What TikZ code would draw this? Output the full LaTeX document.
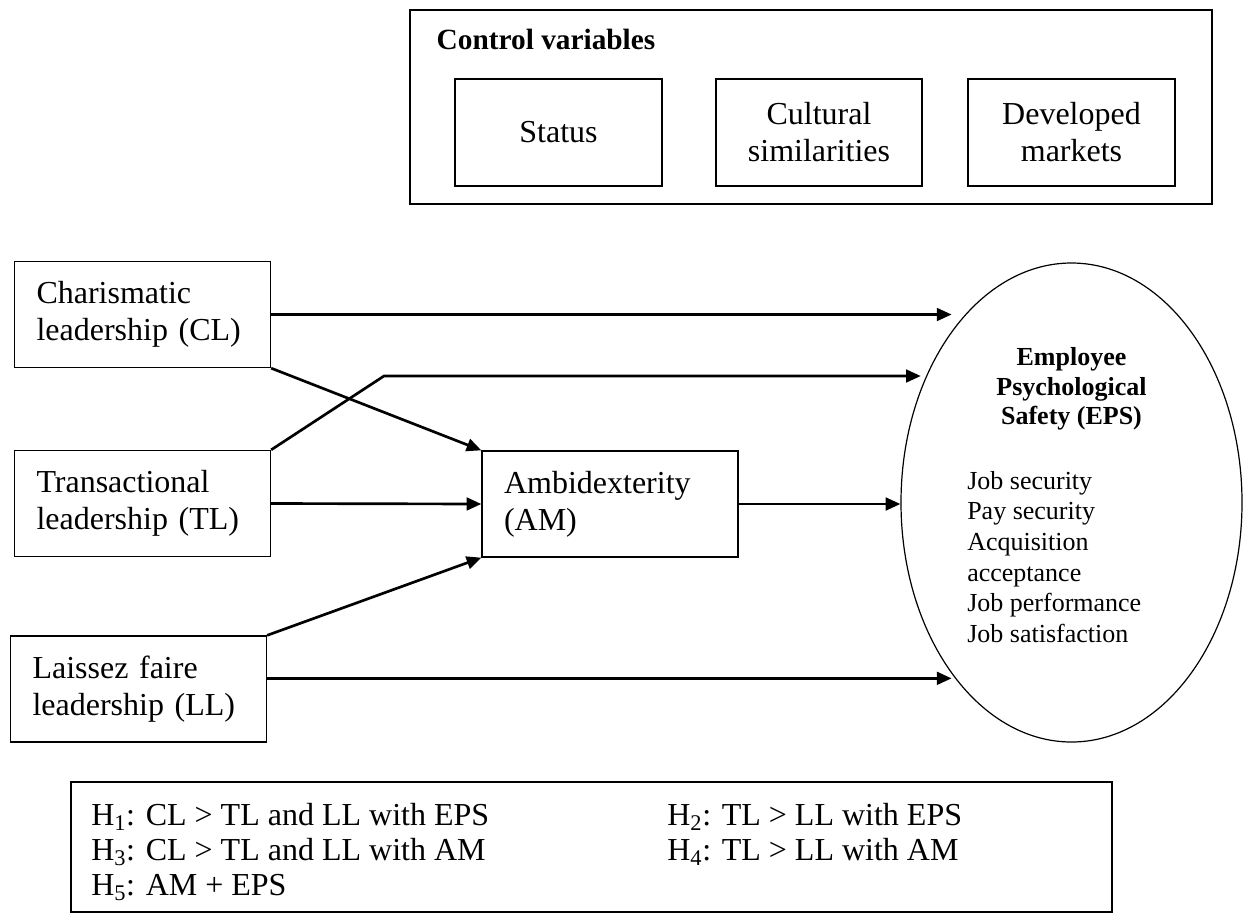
\documentclass[tikz,border=0pt]{standalone}
\usepackage{fontspec}
\setmainfont{Liberation Serif}
\usetikzlibrary{shapes.geometric,arrows.meta,positioning}

\begin{document}
\begin{tikzpicture}[x=0.75pt,y=-0.75pt,
    leadbox/.style={draw,line width=1pt,text width=159pt,inner xsep=16.5pt,inner ysep=0pt,
        minimum height=79.5pt,align=left,font=\fontsize{24}{27.75}\selectfont},
    ctrlbox/.style={draw,line width=1.7pt,minimum width=155pt,minimum height=80pt,
        align=center,font=\fontsize{24}{27.75}\selectfont},
    arr/.style={line width=2pt,-{Triangle[length=11pt,width=9.5pt]}}]
    \useasboundingbox (0,0) rectangle (1246,918);
    % control variables
    \node [draw,line width=1pt,minimum width=601.5pt,minimum height=145.5pt] (ctrl) at (811,107) {};
    \node [anchor=base west,font=\fontsize{22}{26}\selectfont\bfseries] (ctrltitle) at (432,49) {Control variables};
    \node [ctrlbox] (status) at (558.5,132.5) {Status};
    \node [ctrlbox] (cultural) at (819,132.5) {Cultural\\similarities};
    \node [ctrlbox] (developed) at (1071.5,132.5) {Developed\\markets};
    % leadership styles
    \node [leadbox] (CL) at (142.5,314.5) {Charismatic\\leadership (CL)};
    \node [leadbox] (TL) at (142.5,503.5) {Transactional\\leadership (TL)};
    \node [leadbox] (LL) at (138.5,689) {Laissez faire\\leadership (LL)};
    \node [leadbox] (AM) at (610,504) {Ambidexterity\\(AM)};
    % outcome
    \node [draw,ellipse,line width=0.9pt,inner sep=0pt,minimum width=255.75pt,minimum height=359.25pt] (EPS) at (1071.5,502.5) {};
    \node [align=center,inner sep=0pt,font=\fontsize{19.5}{22}\selectfont\bfseries] (EPStitle) at (1071.5,389) {Employee\\Psychological\\Safety (EPS)};
    \node [anchor=north west,align=left,inner sep=0pt,font=\fontsize{19.5}{23}\selectfont] (EPSlist) at (967,471)
        {Job security\\Pay security\\Acquisition\\acceptance\\Job performance\\Job satisfaction};
    % paths
    \coordinate (TLbend) at (384,376);
    \draw [arr] (CL.east) -- (CL.east -| EPS.125);
    \draw [arr] (TL.north east) -- (TLbend) -- (TLbend -| EPS.143);
    \draw [arr] (CL.south east) -- (AM.north west);
    \draw [arr] (TL.east) -- (AM.west);
    \draw [arr] (LL.north east) -- (AM.south west);
    \draw [arr] (AM.east) -- (AM.east -| EPS.west);
    \draw [arr] ([yshift=8pt]LL.east) -- ([yshift=8pt]LL.east -| EPS.235);
    % hypotheses
    \node [draw,line width=1.4pt,minimum width=780.75pt,minimum height=97.5pt] (hyp) at (591.5,847) {};
    \node [anchor=north west,align=left,inner sep=0pt,font=\fontsize{24}{26.25}\selectfont] (hypA) at (91,803)
        {H\textsubscript{1}: CL > TL and LL with EPS\\H\textsubscript{3}: CL > TL and LL with AM\\H\textsubscript{5}: AM + EPS};
    \node [anchor=north west,align=left,inner sep=0pt,font=\fontsize{24}{26.25}\selectfont] (hypB) at (667,803)
        {H\textsubscript{2}: TL > LL with EPS\\H\textsubscript{4}: TL > LL with AM};
\end{tikzpicture}
\end{document}
